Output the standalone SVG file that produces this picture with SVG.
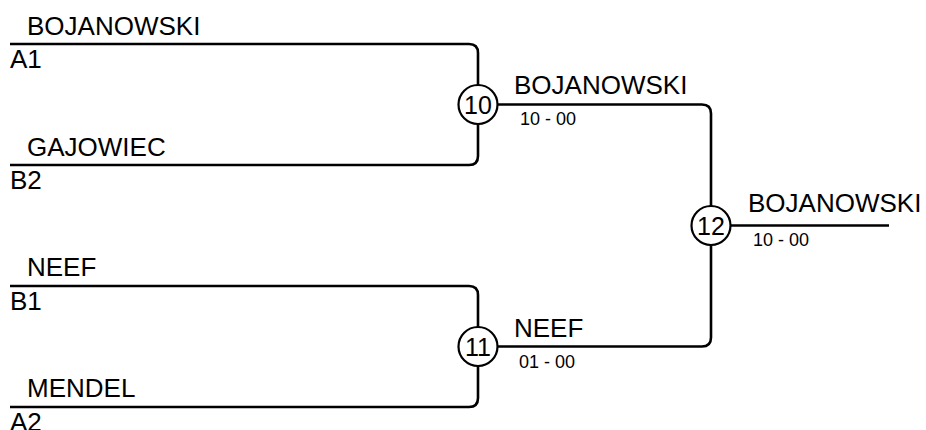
<svg xmlns="http://www.w3.org/2000/svg" width="926" height="430" viewBox="0 0 926 430">
<style>
.ln{fill:none;stroke:#000;stroke-width:2.6;}
.c{fill:#fff;stroke:#000;stroke-width:2.2;}
.nm{font-family:"Liberation Sans",Arial,sans-serif;font-size:26px;fill:#000;}
.sd{font-family:"Liberation Sans",Arial,sans-serif;font-size:26px;fill:#000;}
.sc{font-family:"Liberation Sans",Arial,sans-serif;font-size:18px;fill:#000;}
.num{font-family:"Liberation Sans",Arial,sans-serif;font-size:25px;fill:#000;text-anchor:middle;}
</style>
<rect width="926" height="430" fill="#fff"/>
<g id="connectors">
<path class="ln" d="M10,44 H469 Q478,44 478,53 V156 Q478,165 469,165 H10"/>
<path class="ln" d="M10,286 H469 Q478,286 478,295 V398 Q478,407 469,407 H10"/>
<path class="ln" d="M478,104.5 H702 Q711,104.5 711,113.5 V337.5 Q711,346.5 702,346.5 H478"/>
<path class="ln" d="M711,225.5 H889"/>
</g>
<g id="e1"><text class="nm" x="27" y="35">BOJANOWSKI</text><text class="sd" x="10" y="68">A1</text></g>
<g id="e2"><text class="nm" x="27" y="156">GAJOWIEC</text><text class="sd" x="10" y="189">B2</text></g>
<g id="e3"><text class="nm" x="27" y="276">NEEF</text><text class="sd" x="10" y="310">B1</text></g>
<g id="e4"><text class="nm" x="27" y="397">MENDEL</text><text class="sd" x="10" y="431">A2</text></g>
<g id="m10"><circle class="c" cx="478" cy="104.5" r="19.5"/><text class="num" x="478" y="113.5">10</text>
<text class="nm" x="514" y="93.5">BOJANOWSKI</text><text class="sc" x="520" y="125">10 - 00</text></g>
<g id="m11"><circle class="c" cx="478" cy="346.5" r="19.5"/><text class="num" x="478" y="355.5">11</text>
<text class="nm" x="514" y="336.5">NEEF</text><text class="sc" x="519" y="368">01 - 00</text></g>
<g id="m12"><circle class="c" cx="711" cy="225.5" r="19.5"/><text class="num" x="711" y="234.5">12</text>
<text class="nm" x="748" y="212">BOJANOWSKI</text><text class="sc" x="753" y="246">10 - 00</text></g>
</svg>
